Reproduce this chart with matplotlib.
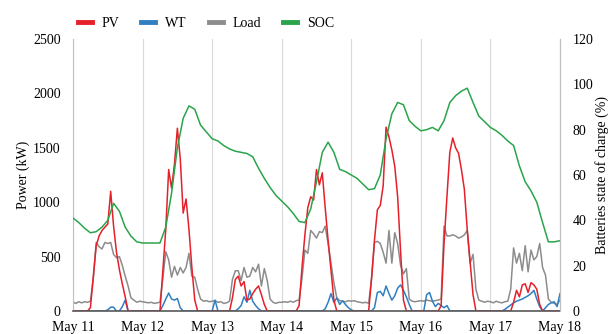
import matplotlib
matplotlib.use("Agg")
import matplotlib.pyplot as plt
import numpy as np

# hourly data, May 11 00:00 -> May 18 00:00
hours = np.arange(0, 169)

pv = [0, 0, 0, 0, 0, 0, 30, 310, 600, 690, 740, 770, 800, 1100, 780, 540, 380, 250, 130, 0, 0, 0, 0, 0,
      0, 0, 0, 0, 0, 0, 0, 380, 750, 1300, 1130, 1350, 1680, 1400, 900, 1030, 750, 400, 100, 0, 0, 0, 0, 0,
      0, 0, 0, 0, 0, 0, 0, 120, 290, 320, 230, 270, 100, 110, 160, 200, 230, 150, 60, 0, 0, 0, 0, 0,
      0, 0, 0, 0, 0, 0, 50, 400, 700, 950, 1050, 1020, 1300, 1160, 1270, 950, 650, 380, 100, 0, 0, 0, 0, 0,
      0, 0, 0, 0, 0, 0, 0, 300, 650, 930, 970, 1150, 1690, 1600, 1480, 1330, 1050, 550, 100, 0, 0, 0, 0, 0,
      0, 0, 0, 0, 0, 0, 0, 50, 620, 1050, 1460, 1590, 1500, 1450, 1300, 1120, 750, 450, 150, 0, 0, 0, 0, 0,
      0, 0, 0, 0, 0, 0, 0, 0, 80, 190, 130, 240, 250, 170, 260, 240, 200, 60, 0, 0, 0, 0, 0, 0, 0]

wt = [0, 0, 0, 0, 0, 0, 0, 0, 0, 0, 0, 0, 10, 35, 35, 0, 0, 40, 100, 0, 0, 0, 0, 0,
      0, 0, 0, 0, 0, 0, 0, 50, 110, 165, 110, 100, 115, 30, 0, 0, 0, 0, 0, 0, 0, 0, 0, 0,
      0, 100, 0, 0, 0, 0, 0, 0, 0, 20, 50, 130, 80, 190, 90, 50, 20, 0, 0, 0, 0, 0, 0, 0,
      0, 0, 0, 0, 0, 0, 0, 0, 0, 0, 0, 0, 0, 0, 0, 20, 80, 160, 80, 120, 60, 95, 60, 30,
      10, 0, 0, 0, 0, 0, 0, 0, 30, 170, 180, 140, 230, 160, 100, 140, 210, 240, 190, 130, 60, 0, 0, 0,
      0, 0, 150, 170, 90, 40, 70, 50, 30, 50, 0, 0, 0, 0, 0, 0, 0, 0, 0, 0, 0, 0, 0, 0,
      0, 0, 0, 0, 0, 15, 35, 55, 75, 90, 100, 110, 125, 140, 160, 190, 110, 40, 0, 30, 60, 75, 85, 40, 160]

load = [80, 70, 85, 75, 85, 80, 90, 300, 630, 590, 570, 630, 620, 630, 520, 490, 500, 420, 320, 230, 120, 100, 80, 90,
        85, 80, 75, 80, 70, 75, 80, 300, 545, 470, 310, 410, 330, 400, 350, 400, 530, 320, 310, 200, 110, 90, 95, 85,
        90, 95, 80, 85, 70, 75, 90, 290, 370, 370, 280, 400, 310, 320, 400, 360, 430, 230, 390, 280, 110, 80, 70, 80,
        80, 85, 80, 90, 80, 95, 100, 300, 560, 530, 740, 710, 670, 730, 720, 780, 620, 440, 260, 120, 95, 90, 85, 95,
        90, 95, 85, 80, 75, 80, 70, 300, 630, 640, 620, 540, 440, 740, 440, 720, 620, 420, 340, 390, 110, 90, 85, 90,
        95, 90, 100, 95, 90, 95, 100, 110, 780, 690, 690, 700, 690, 670, 680, 700, 740, 440, 520, 200, 100, 90, 80, 90,
        85, 75, 90, 80, 75, 85, 90, 200, 580, 440, 530, 370, 600, 360, 560, 470, 500, 620, 400, 330, 110, 80, 70, 60, 100]

# battery state of charge, every 2 hours
soc_hours = np.arange(0, 169, 2)
soc = [41, 39, 36.5, 34.5, 35, 37, 40, 47.5, 44, 37, 33, 30.5,
       30, 30, 30, 30, 37, 52, 72, 85, 90.5, 89, 82, 79,
       76, 75, 73, 71.5, 70.5, 70, 69.5, 68, 63, 58.5, 54.5, 51,
       48.5, 46, 43, 39.5, 39, 45, 57, 70, 74.5, 70, 62.5, 61.5,
       60, 58.5, 56, 53.5, 54, 60, 76, 87, 92, 91, 84, 81.5,
       79.5, 80, 81, 79.5, 84, 92, 95, 97, 98.3, 92, 86, 83.5,
       81, 79.5, 77.5, 75, 73, 64, 57, 53, 48, 39, 30.5, 30.5, 31]

day_labels = ["May 11", "May 12", "May 13", "May 14", "May 15", "May 16", "May 17", "May 18"]

plt.rcParams['font.family'] = ['Liberation Serif', 'DejaVu Serif']
plt.rcParams['font.size'] = 10

c_pv = '#e5202a'
c_wt = '#2f7fc1'
c_load = '#8c8c8c'
c_soc = '#2aa44b'

fig = plt.figure(figsize=(6.11, 3.34), dpi=100)
ax = fig.add_axes([0.1195, 0.0689, 0.797, 0.8143])

ax.plot(hours, load, color=c_load, lw=1.1, label='Load')
ax.plot(hours, wt, color=c_wt, lw=1.1, label='WT')
ax.plot(hours, pv, color=c_pv, lw=1.1, label='PV')

ax.set_xlim(0, 168)
ax.set_ylim(0, 2500)
ax.set_yticks(np.arange(0, 2501, 500))
ax.set_xticks(np.arange(0, 169, 24))
ax.set_xticklabels(day_labels)
ax.grid(axis='x', color='#d9d9d9', lw=0.8)
ax.set_axisbelow(True)
ax.tick_params(length=0, pad=7)
ax.tick_params(axis='y', pad=9)
ax.set_ylabel('Power (kW)', labelpad=2)

ax.spines['top'].set_visible(False)
ax.spines['left'].set_color('#bfbfbf')
ax.spines['right'].set_color('#bfbfbf')
ax.spines['bottom'].set_color('#595959')
ax.spines['bottom'].set_linewidth(1.2)

ax2 = ax.twinx()
ax2.plot(soc_hours, soc, color=c_soc, lw=1.1, label='SOC')
ax2.set_ylim(0, 120)
ax2.set_yticks(np.arange(0, 121, 20))
ax2.tick_params(length=0, pad=9)
ax2.set_ylabel('Batteries state of charge (%)', labelpad=1)
ax2.spines['top'].set_visible(False)
ax2.spines['left'].set_visible(False)
ax2.spines['bottom'].set_visible(False)
ax2.spines['right'].set_color('#bfbfbf')

handles = [plt.Line2D([], [], color=c, lw=3.5) for c in [c_pv, c_wt, c_load, c_soc]]
fig.legend(handles, ['PV', 'WT', 'Load', 'SOC'], ncol=4, frameon=False,
           loc='center', bbox_to_anchor=(0.337, 0.93), handlelength=1.0,
           handletextpad=0.7, columnspacing=1.6, fontsize=10)

fig.savefig('out.png', dpi=100)
